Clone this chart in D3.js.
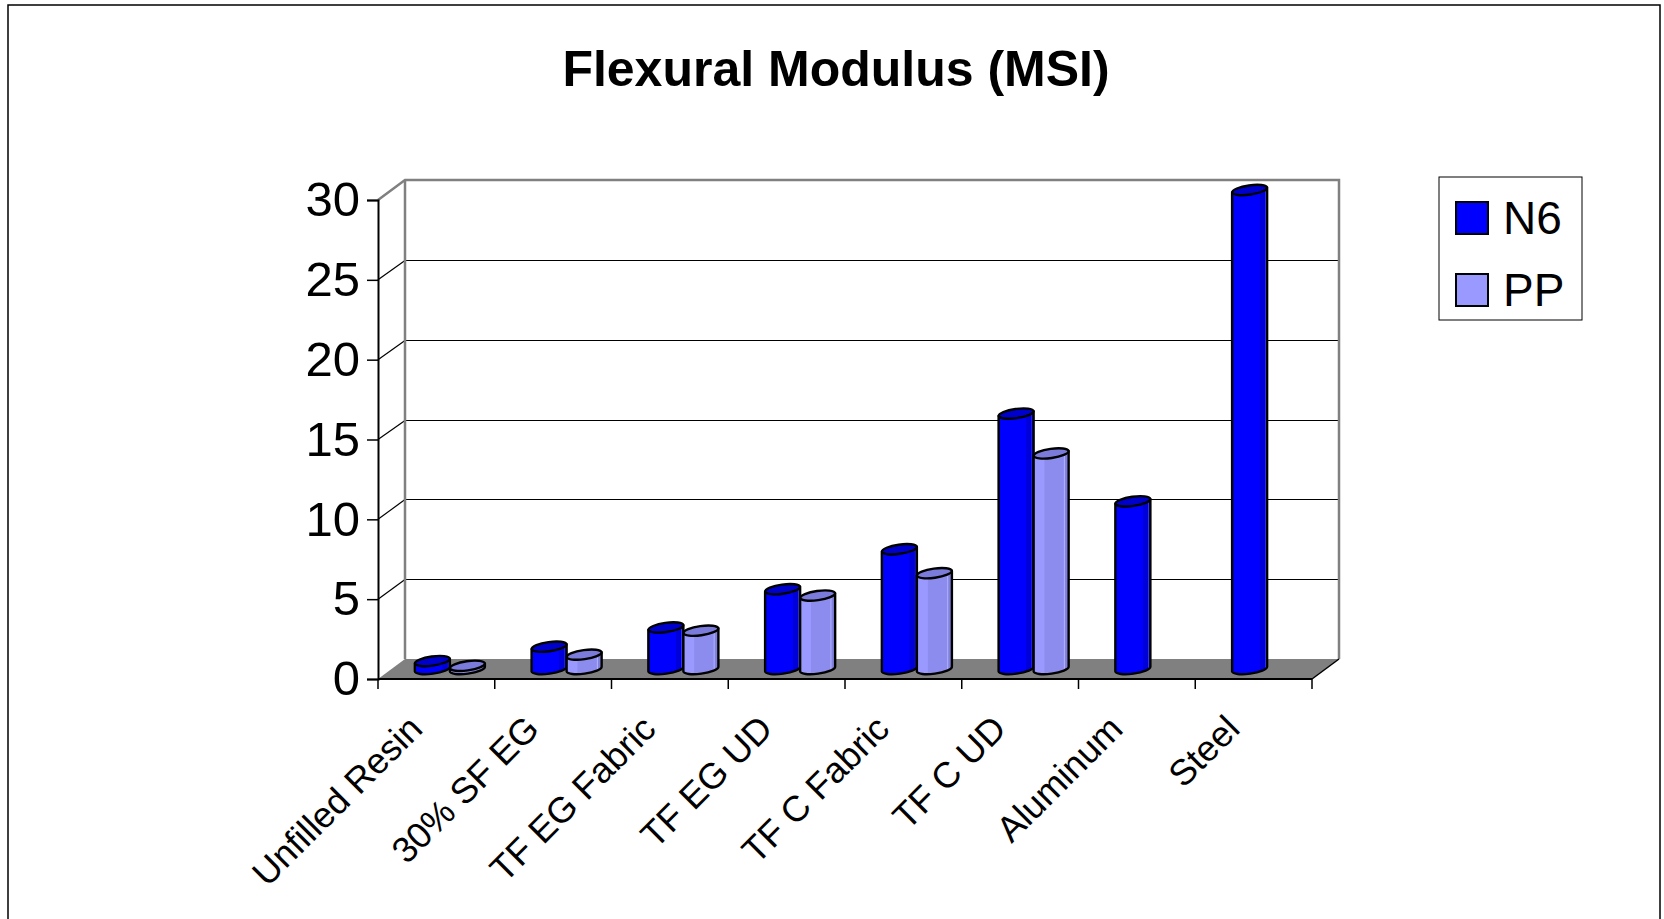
<!DOCTYPE html>
<html>
<head>
<meta charset="utf-8">
<script src="https://cdn.jsdelivr.net/npm/d3@7"></script>
<style>
  body { margin: 0; background: #fff; }
  svg { display: block; font-family: "Liberation Sans", Arial, sans-serif; }
</style>
</head>
<body>
<svg></svg>
<script>
const width = 1664;
const height = 919;

// chart data
const categories = ["Unfilled Resin", "30% SF EG", "TF EG Fabric", "TF EG UD", "TF C Fabric", "TF C UD", "Aluminum", "Steel"];
const seriesNames = ["N6", "PP"];
const n6Values = [0.5, 1.4, 2.6, 5.0, 7.5, 16.0, 10.5, 30.0];
const ppValues = [0.2, 0.9, 2.4, 4.6, 6.0, 13.5, null, null];
const yTicks = [0, 5, 10, 15, 20, 25, 30];

const seriesValues = { N6: n6Values, PP: ppValues };

const svg = d3.select("svg")
    .attr("width", width)
    .attr("height", height);

// outer frame
svg.append("rect")
    .attr("x", 8).attr("y", 5)
    .attr("width", 1652).attr("height", 940)
    .attr("fill", "none")
    .attr("stroke", "#000")
    .attr("stroke-width", 1.5);

svg.append("text")
    .attr("x", 836).attr("y", 86)
    .attr("text-anchor", "middle")
    .attr("font-size", 50)
    .attr("font-weight", "bold")
    .text("Flexural Modulus (MSI)");

// front plane of the 3d box, depth offset to the back wall
const plotLeft = 378, plotRight = 1312, plotBottom = 679, plotTop = 200;
const depthX = 27, depthY = -20;

const x0 = d3.scaleBand()
    .domain(categories)
    .range([plotLeft, plotRight])
    .paddingInner(0.4)
    .paddingOuter(0.2);

const x1 = d3.scaleBand()
    .domain(seriesNames)
    .range([0, x0.bandwidth()]);

const y = d3.scaleLinear()
    .domain([0, 30])
    .range([plotBottom, plotTop]);

// floor
svg.append("polygon")
    .attr("points", [[plotLeft, plotBottom], [plotRight, plotBottom], [plotRight + depthX, plotBottom + depthY], [plotLeft + depthX, plotBottom + depthY]].join(" "))
    .attr("fill", "#808080");

// gridlines on back wall and left wall
const grid = svg.append("g");
yTicks.filter(t => t > 0 && t < 30).forEach(t => {
    const gy = Math.round(y(t) + depthY) + 0.5;
    grid.append("line")
        .attr("x1", plotLeft + depthX).attr("x2", plotRight + depthX)
        .attr("y1", gy).attr("y2", gy)
        .attr("stroke", "#000").attr("stroke-width", 1);
    grid.append("line")
        .attr("x1", plotLeft).attr("x2", plotLeft + depthX)
        .attr("y1", y(t)).attr("y2", gy)
        .attr("stroke", "#000").attr("stroke-width", 1.2);
});

// wall borders
const yTop = y(30);
grid.append("path")
    .attr("d", `M${plotLeft},${yTop} L${plotLeft + depthX},${yTop + depthY} L${plotRight + depthX},${yTop + depthY} L${plotRight + depthX},${plotBottom + depthY}`)
    .attr("fill", "none").attr("stroke", "#808080").attr("stroke-width", 2.5);
grid.append("line")
    .attr("x1", plotLeft + depthX).attr("x2", plotLeft + depthX)
    .attr("y1", yTop + depthY).attr("y2", plotBottom + depthY)
    .attr("stroke", "#808080").attr("stroke-width", 2.5);

// floor front edge and right side edge
svg.append("line")
    .attr("x1", plotLeft).attr("x2", plotRight)
    .attr("y1", plotBottom).attr("y2", plotBottom)
    .attr("stroke", "#000").attr("stroke-width", 2);
svg.append("line")
    .attr("x1", plotRight).attr("x2", plotRight + depthX)
    .attr("y1", plotBottom).attr("y2", plotBottom + depthY)
    .attr("stroke", "#000").attr("stroke-width", 1.5);

// y axis
const yAxis = svg.append("g")
    .attr("transform", `translate(${plotLeft},0)`)
    .call(d3.axisLeft(y).tickValues(yTicks).tickSize(11).tickPadding(7));
yAxis.select(".domain").attr("stroke", "#000").attr("stroke-width", 2);
yAxis.selectAll(".tick line").attr("stroke", "#000").attr("stroke-width", 1.5);
yAxis.selectAll(".tick text")
    .attr("font-size", 49)
    .attr("font-family", "Liberation Sans, Arial, sans-serif")
    .attr("fill", "#000");

// category boundary ticks
const step = x0.step();
d3.range(categories.length + 1).forEach(k => {
    const xx = x0(categories[0]) - x0.paddingOuter() * step + k * step;
    svg.append("line")
        .attr("x1", xx).attr("x2", xx)
        .attr("y1", plotBottom).attr("y2", plotBottom + 10)
        .attr("stroke", "#000").attr("stroke-width", 1.5);
});

// category labels
svg.append("g").selectAll("text")
    .data(categories)
    .enter().append("text")
    .attr("transform", d => `translate(${x0(d) + x0.bandwidth() / 2 - 21},${722}) rotate(-45)`)
    .attr("text-anchor", "end")
    .attr("dy", "0.35em")
    .attr("font-size", 36)
    .text(d => d);

// gradients for cylinder shading
const defs = svg.append("defs");
const shades = {
    N6: [[0, "#0000FF"], [0.78, "#0000FF"], [0.8, "#0000D8"], [0.93, "#0000D8"], [0.95, "#4040FF"], [0.97, "#0000C8"], [1, "#0000C8"]],
    PP: [[0, "#9999FF"], [0.3, "#9999FF"], [0.32, "#8C8CEE"], [0.85, "#8C8CEE"], [0.88, "#B0B0FF"], [0.91, "#8080DD"], [1, "#8080DD"]]
};
const capColor = { N6: "#0000CC", PP: "#7B7BDB" };
const legendColor = { N6: "#0000FF", PP: "#9999FF" };

seriesNames.forEach(s => {
    const g = defs.append("linearGradient")
        .attr("id", "grad-" + s)
        .attr("x1", "0").attr("x2", "1").attr("y1", "0").attr("y2", "0");
    shades[s].forEach(([o, c]) => g.append("stop").attr("offset", o).attr("stop-color", c));
});

// bars as cylinders sitting at mid depth
const bars = [];
categories.forEach((c, i) => {
    seriesNames.forEach(s => {
        const v = seriesValues[s][i];
        if (v != null) bars.push({ cat: c, series: s, value: v });
    });
});

const rx = x1.bandwidth() / 2;
const ry = 4.6;
const tiltDeg = 8;
const dyTilt = rx * Math.sin(tiltDeg * Math.PI / 180);

const barG = svg.append("g")
    .selectAll("g")
    .data(bars)
    .enter().append("g");

barG.append("path")
    .attr("d", d => {
        const xa = x0(d.cat) + x1(d.series) + depthX / 2;
        const xb = xa + x1.bandwidth();
        const yv = y(d.value) + depthY / 2;
        const yb = y(0) + depthY / 2;
        return `M${xa},${yv + dyTilt} L${xa},${yb + dyTilt} A${rx},${ry} ${-tiltDeg} 0 0 ${xb},${yb - dyTilt} L${xb},${yv - dyTilt} Z`;
    })
    .attr("fill", d => `url(#grad-${d.series})`)
    .attr("stroke", "#000")
    .attr("stroke-width", 2.4)
    .attr("stroke-linejoin", "round");

barG.append("ellipse")
    .attr("cx", 0).attr("cy", 0)
    .attr("rx", rx).attr("ry", ry)
    .attr("transform", d => {
        const xc = x0(d.cat) + x1(d.series) + depthX / 2 + rx;
        const yv = y(d.value) + depthY / 2;
        return `translate(${xc},${yv}) rotate(${-tiltDeg})`;
    })
    .attr("fill", d => capColor[d.series])
    .attr("stroke", "#000")
    .attr("stroke-width", 2.4);

// legend
const legend = svg.append("g");
legend.append("rect")
    .attr("x", 1439).attr("y", 177)
    .attr("width", 143).attr("height", 143)
    .attr("fill", "#fff")
    .attr("stroke", "#000")
    .attr("stroke-width", 1);

seriesNames.forEach((s, i) => {
    const yy = 202 + i * 72;
    legend.append("rect")
        .attr("x", 1456).attr("y", yy)
        .attr("width", 32).attr("height", 32)
        .attr("fill", legendColor[s])
        .attr("stroke", "#000")
        .attr("stroke-width", 2);
    legend.append("text")
        .attr("x", 1503).attr("y", yy + 32)
        .attr("font-size", 46)
        .text(s);
});
</script>
</body>
</html>
